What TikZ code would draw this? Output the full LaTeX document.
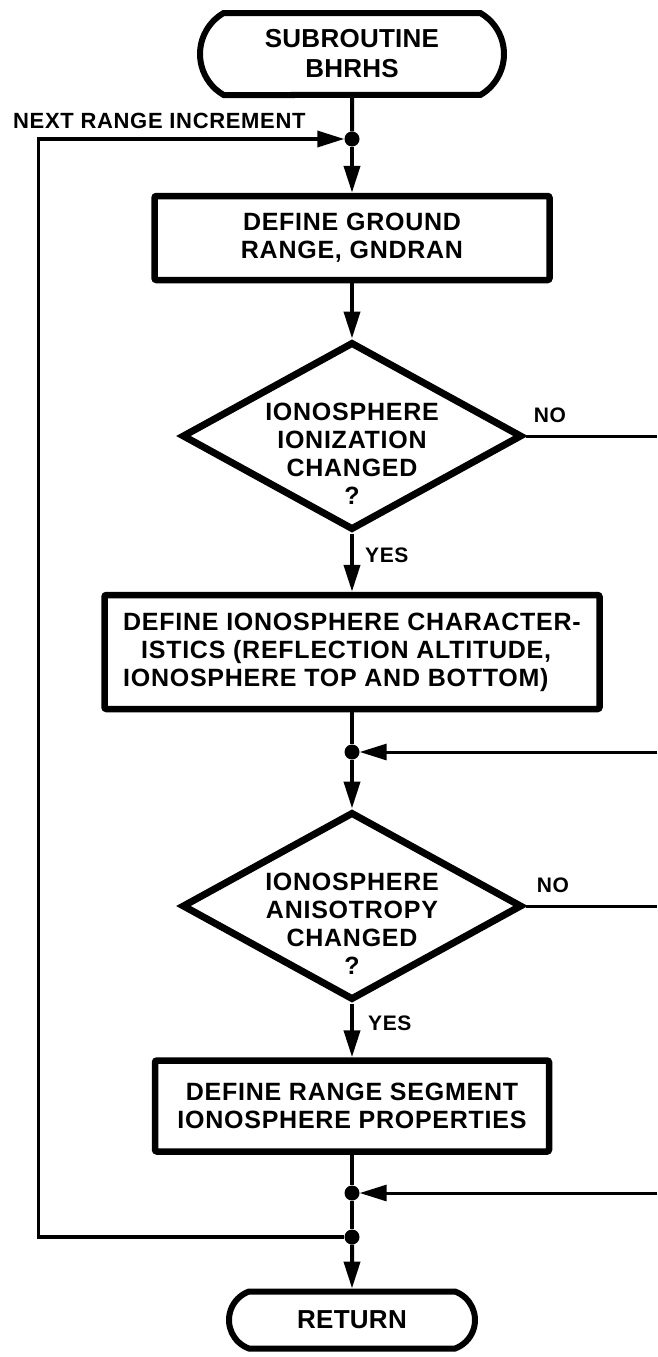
\documentclass[tikz,border=0pt]{standalone}
\usepackage{fontspec}
\setmainfont{Liberation Sans}
\newfontfamily\chartfont[LetterSpace=3]{Liberation Sans}
\newfontfamily\termfont[LetterSpace=1]{Liberation Sans}
\usetikzlibrary{shapes.geometric,shapes.misc,arrows.meta}

\begin{document}
\begin{tikzpicture}[x=1pt,y=-1pt,
  chart text/.style={font=\chartfont\bfseries\fontsize{25}{28}\selectfont, align=center},
  terminal/.style={rounded rectangle, rounded rectangle arc length=120, draw, line width=6pt,
    inner sep=0pt, align=center, font=\termfont\bfseries\fontsize{26}{30}\selectfont},
  procbox/.style={rectangle, draw, line width=6.5pt, inner sep=0pt, rounded corners=2pt, chart text},
  decision/.style={diamond, draw, line width=7pt, inner sep=0pt, line join=miter,
    minimum width=340pt, minimum height=188pt},
  junction/.style={circle, fill=black, inner sep=0pt, minimum size=15pt},
  flow/.style={line width=4pt, line join=miter},
  flowarrow/.style={flow, -{Triangle[length=27pt,width=16pt]}},
  branch/.style={font=\chartfont\bfseries\fontsize{21}{24}\selectfont, inner sep=0pt},
]
\path[fill=white] (0,0) rectangle (657,1357);
\useasboundingbox (0,0) rectangle (657,1357);

% main column
\node[terminal, minimum width=304pt, minimum height=82pt] (start) at (352,54) {SUBROUTINE\\BHRHS};
\node[junction] (j1) at (352,139) {};
\node[procbox, minimum width=395pt, minimum height=84pt] (b1) at (352,238) {DEFINE GROUND\\RANGE, GNDRAN};
\node[decision] (d1) at (352,436) {};
\node[chart text] (d1text) at (352,454) {IONOSPHERE\\IONIZATION\\CHANGED\\?};
\node[procbox, minimum width=495pt, minimum height=114pt, align=left] (b2) at (352,652)
  {DEFINE IONOSPHERE CHARACTER-\\\hspace*{18pt}ISTICS (REFLECTION ALTITUDE,\\IONOSPHERE TOP AND BOTTOM)};
\node[junction] (j2) at (352,752) {};
\node[decision] (d2) at (352,906) {};
\node[chart text] (d2text) at (352,924) {IONOSPHERE\\ANISOTROPY\\CHANGED\\?};
\node[procbox, minimum width=394pt, minimum height=91pt] (b3) at (352,1106) {DEFINE RANGE SEGMENT\\IONOSPHERE PROPERTIES};
\node[junction] (j3) at (352,1193) {};
\node[junction] (j4) at (352,1237) {};
\node[terminal, rounded rectangle arc length=140, minimum width=246pt, minimum height=57pt] (ret) at (352,1320) {RETURN};

% branch labels
\node[branch, anchor=base west, font=\chartfont\bfseries\fontsize{22}{24}\selectfont] (next) at (13,128) {NEXT RANGE INCREMENT};
\node[branch, anchor=base] (no1) at (550,422) {NO};
\node[branch, anchor=base west] (yes1) at (365,562) {YES};
\node[branch, anchor=base] (no2) at (553,892) {NO};
\node[branch, anchor=base west] (yes2) at (368,1030) {YES};

% off-page ends and loop corners
\coordinate (e1) at (657,436);
\coordinate (e2) at (657,752);
\coordinate (e3) at (657,906);
\coordinate (e4) at (657,1193);
\coordinate (lb) at (38.5,1237);
\coordinate (lt) at (38.5,139);

% connectors
\draw[flow] (start) -- (j1);
\draw[flowarrow] (j1) -- (b1);
\draw[flowarrow] (b1) -- (d1);
\draw[flowarrow] (d1) -- (b2);
\draw[flow] (b2) -- (j2);
\draw[flowarrow] (j2) -- (d2);
\draw[flowarrow] (d2) -- (b3);
\draw[flow] (b3) -- (j3);
\draw[flow] (j3) -- (j4);
\draw[flowarrow] (j4) -- (ret);
\draw[flow, line width=3pt] (d1.east) -- (e1);
\draw[flow, line width=3pt] (d2.east) -- (e3);
\draw[flowarrow, line width=3pt] (e2) -- (j2);
\draw[flowarrow, line width=3pt] (e4) -- (j3);
\draw[flowarrow, line width=3.5pt] (j4) -- (lb) -- (lt) -- (j1);
\end{tikzpicture}
\end{document}
